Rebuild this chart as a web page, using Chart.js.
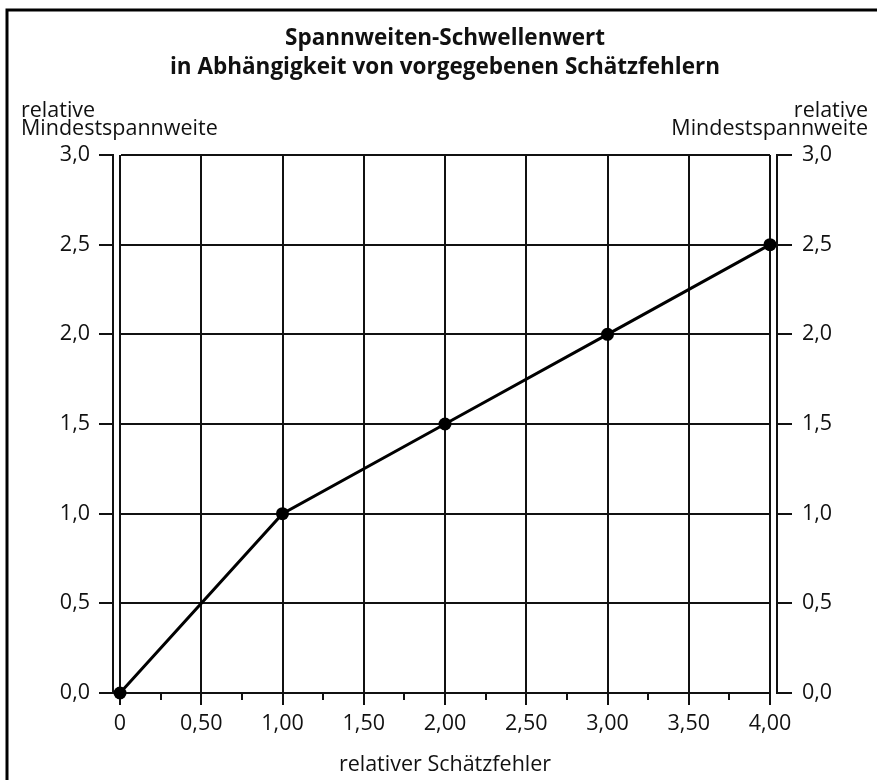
<!DOCTYPE html>
<html>
<head>
<meta charset="utf-8">
<script src="https://cdn.jsdelivr.net/npm/chart.js@4.4.0/dist/chart.umd.min.js"></script>
<style>
  html, body { margin: 0; padding: 0; background: #fff; }
  #wrap { width: 877px; height: 780px; }
</style>
</head>
<body>
<div id="wrap"><canvas id="spannweite"></canvas></div>
<script>
// ------------ DATA ------------

const titleLines = ['Spannweiten-Schwellenwert', 'in Abhängigkeit von vorgegebenen Schätzfehlern'];
const xAxisTitle = 'relativer Schätzfehler';
const yAxisTitle = ['relative', 'Mindestspannweite'];

const schaetzfehler = [0, 1, 2, 3, 4];
const mindestspannweite = [0, 1.0, 1.5, 2.0, 2.5];

const xMin = 0, xMax = 4, xStep = 0.5;
const xMinorTicks = [0.25, 0.75, 1.25, 1.75, 2.25, 2.75, 3.25, 3.75];
const yMin = 0, yMax = 3, yStep = 0.5;

// ------------ HELPERS ------------

const FONT = "'Open Sans', 'DejaVu Sans', sans-serif";
const INK = '#111';

function xLabel(v) {
    if (v === 0) return '0';
    return v.toFixed(2).replace('.', ',');
}

function yLabel(v) {
    return v.toFixed(1).replace('.', ',');
}

// frame, minor ticks on x, horizontal axis titles
const extras = {
    id: 'extras',
    beforeDraw(chart) {
        const ctx = chart.ctx;
        ctx.save();
        ctx.fillStyle = '#fff';
        ctx.fillRect(0, 0, chart.width, chart.height);
        ctx.restore();
    },
    afterDraw(chart) {
        const ctx = chart.ctx;
        const area = chart.chartArea;
        const x = chart.scales.x;

        ctx.save();
        // outer frame (only top and left are inside the picture)
        ctx.strokeStyle = '#000';
        ctx.lineWidth = 3;
        ctx.beginPath();
        ctx.moveTo(7, chart.height + 10);
        ctx.lineTo(7, 10);
        ctx.lineTo(chart.width + 10, 10);
        ctx.stroke();

        // minor ticks
        ctx.strokeStyle = INK;
        ctx.lineWidth = 2;
        ctx.beginPath();
        xMinorTicks.forEach(function(v) {
            const px = Math.round(x.getPixelForValue(v));
            ctx.moveTo(px, area.bottom);
            ctx.lineTo(px, area.bottom + 7);
        });
        ctx.stroke();

        // y titles, horizontal above both axes
        ctx.fillStyle = INK;
        ctx.font = '21.5px ' + FONT;
        ctx.textBaseline = 'alphabetic';
        ctx.textAlign = 'left';
        ctx.fillText(yAxisTitle[0], 21, area.top - 38);
        ctx.fillText(yAxisTitle[1], 21, area.top - 20);
        ctx.textAlign = 'right';
        ctx.fillText(yAxisTitle[0], 868, area.top - 38);
        ctx.fillText(yAxisTitle[1], 868, area.top - 20);
        ctx.restore();
    }
};

// ------------ CHART ------------

const points = schaetzfehler.map(function(v, i) { return { x: v, y: mindestspannweite[i] }; });

const config = {
    type: 'line',
    data: {
        datasets: [{
            data: points,
            borderColor: '#000',
            borderWidth: 3,
            backgroundColor: '#000',
            pointBackgroundColor: '#000',
            pointBorderColor: '#000',
            pointRadius: 6.5,
            pointBorderWidth: 0,
            tension: 0,
            clip: false,
            yAxisID: 'y'
        }]
    },
    options: {
        responsive: true,
        maintainAspectRatio: false,
        animation: false,
        devicePixelRatio: 1,
        layout: { padding: 0 },
        plugins: {
            legend: { display: false },
            tooltip: { enabled: false },
            title: {
                display: true,
                fullSize: false,
                text: titleLines,
                color: INK,
                font: { family: FONT, size: 22.5, weight: 'bold', lineHeight: 29 / 22.5 },
                padding: { top: 24.5, bottom: 72.5 }
            }
        },
        scales: {
            x: {
                type: 'linear',
                min: xMin,
                max: xMax,
                afterFit: function(s) { s.height = 87; },
                ticks: {
                    stepSize: xStep,
                    color: INK,
                    padding: 6,
                    font: { family: FONT, size: 21.5 },
                    callback: xLabel
                },
                grid: { color: INK, lineWidth: 2, tickLength: 12, tickColor: INK },
                border: { display: true, color: INK, width: 2 },
                title: {
                    display: true,
                    text: xAxisTitle,
                    color: INK,
                    font: { family: FONT, size: 21.5 },
                    padding: { top: 0, bottom: 2 }
                }
            },
            y: {
                type: 'linear',
                position: 'left',
                weight: 1,
                min: yMin,
                max: yMax,
                afterFit: function(s) { s.width = 113; },
                ticks: {
                    stepSize: yStep,
                    color: INK,
                    padding: 9,
                    font: { family: FONT, size: 21.5 },
                    callback: yLabel
                },
                grid: { color: INK, lineWidth: 2, tickLength: 14, tickColor: INK },
                border: { display: true, color: INK, width: 2 }
            },
            gapL: {
                type: 'linear',
                position: 'left',
                weight: 0,
                afterFit: function(s) { s.width = 7; },
                ticks: { display: false },
                grid: { display: false },
                border: { display: false }
            },
            yRight: {
                type: 'linear',
                position: 'right',
                weight: 1,
                min: yMin,
                max: yMax,
                afterFit: function(s) { s.width = 100; },
                ticks: {
                    stepSize: yStep,
                    color: INK,
                    padding: 10,
                    font: { family: FONT, size: 21.5 },
                    callback: yLabel
                },
                grid: { drawOnChartArea: false, lineWidth: 2, tickLength: 15, tickColor: INK },
                border: { display: true, color: INK, width: 2 }
            },
            gapR: {
                type: 'linear',
                position: 'right',
                weight: 0,
                afterFit: function(s) { s.width = 7; },
                ticks: { display: false },
                grid: { display: false },
                border: { display: false }
            }
        }
    },
    plugins: [extras]
};

const ctx = document.getElementById('spannweite').getContext('2d');
const spannweiteChart = new Chart(ctx, config);
</script>
</body>
</html>
